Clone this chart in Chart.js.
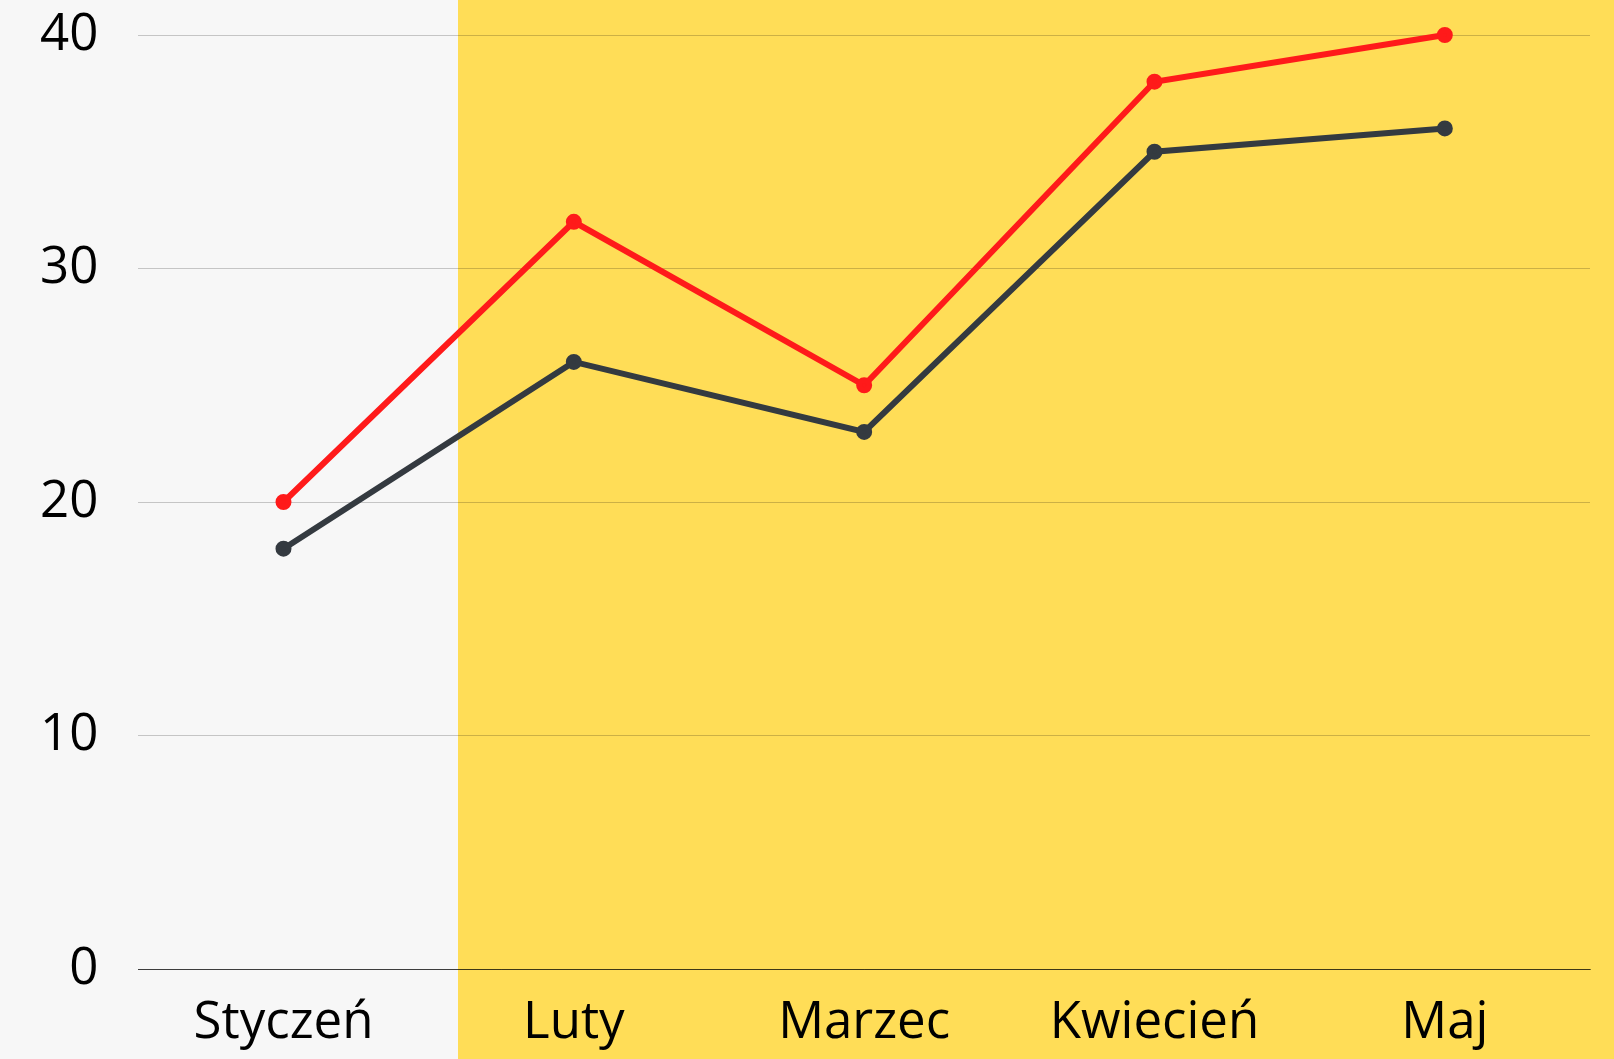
<!DOCTYPE html>
<html>
<head>
<meta charset="utf-8">
<script src="https://cdn.jsdelivr.net/npm/chart.js@4"></script>
<style>
html,body{margin:0;padding:0;background:#f7f7f7;}
#wrap{width:1614px;height:1059px;position:relative;}
</style>
</head>
<body>
<div id="wrap"><canvas id="c"></canvas></div>
<script>
const categories = ["Styczeń", "Luty", "Marzec", "Kwiecień", "Maj"];
const seriesRed = [20, 32, 25, 38, 40];
const seriesDark = [18, 26, 23, 35, 36];
const yTicks = [0, 10, 20, 30, 40];

const bgPlugin = {
  id: 'bg',
  beforeDraw(chart) {
    const c = chart.ctx;
    c.save();
    c.fillStyle = '#f7f7f7';
    c.fillRect(0, 0, chart.width, chart.height);
    c.fillStyle = '#ffdd57';
    c.fillRect(458, 0, chart.width - 458, chart.height);
    c.restore();
  }
};

const tickFont = { family: 'Open Sans', size: 51, weight: 500 };

new Chart(document.getElementById('c'), {
  type: 'line',
  data: {
    labels: categories,
    datasets: [
      { data: seriesRed, clip: false, borderColor: '#ff1a1a', backgroundColor: '#ff1a1a', borderWidth: 6, pointRadius: 5, pointBorderWidth: 6, pointBackgroundColor: '#ff1a1a', tension: 0 },
      { data: seriesDark, clip: false, borderColor: '#343a40', backgroundColor: '#343a40', borderWidth: 6, pointRadius: 5, pointBorderWidth: 6, pointBackgroundColor: '#343a40', tension: 0 }
    ]
  },
  options: {
    responsive: true,
    maintainAspectRatio: false,
    animation: false,
    layout: { padding: { top: 35, right: 24, left: 0, bottom: 0 } },
    plugins: { legend: { display: false }, tooltip: { enabled: false } },
    scales: {
      x: {
        offset: true,
        grid: { display: false, drawTicks: false },
        border: { display: true, color: 'rgba(0,0,0,0.5)', width: 1 },
        ticks: { color: '#000', padding: 24, font: tickFont },
        afterFit(axis) { axis.height = 90; axis.paddingLeft = 0; axis.paddingRight = 0; }
      },
      y: {
        min: 0, max: 40,
        afterBuildTicks(axis) { axis.ticks = yTicks.map(v => ({ value: v })); },
        afterFit(axis) { axis.paddingTop = 0; axis.paddingBottom = 0; },
        grid: { drawTicks: false, color: ctx => ctx.tick && ctx.tick.value === 0 ? 'rgba(0,0,0,0.5)' : 'rgba(0,0,0,0.2)', lineWidth: 1 },
        border: { display: false },
        ticks: { color: '#000', padding: 40, font: tickFont }
      }
    }
  },
  plugins: [bgPlugin]
});
</script>
</body>
</html>
